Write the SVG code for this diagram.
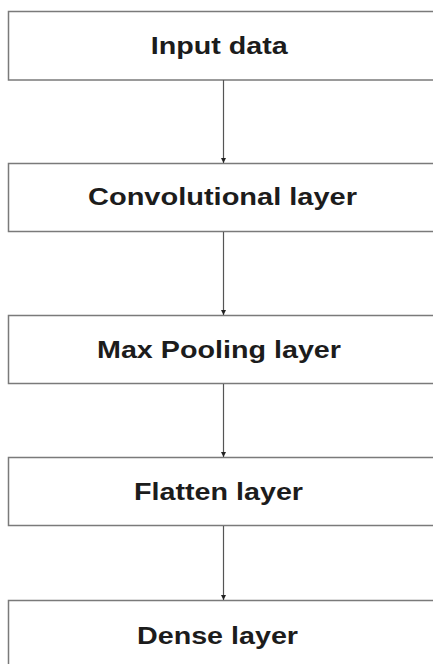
<svg xmlns="http://www.w3.org/2000/svg" width="433" height="664" viewBox="0 0 433 664">
<defs>
<style>
.box{fill:#fff;stroke:#7a7a7a;stroke-width:1.5}
.lbl{font-family:"Liberation Sans",Arial,sans-serif;font-weight:bold;font-size:23px;fill:#1c1c1c;text-anchor:middle}
.conn{stroke:#555;stroke-width:1.2;fill:none}
</style>
<marker id="ah" markerWidth="8" markerHeight="8" refX="5" refY="4" orient="auto" markerUnits="userSpaceOnUse">
<path d="M0,1.5 L5,4 L0,6.5 Z" fill="#222"/>
</marker>
</defs>
<rect width="433" height="664" fill="#fff"/>
<g id="node-input">
<rect class="box" x="8.5" y="11.5" width="440" height="68.5"/>
<text class="lbl" x="219.2" y="53.5" textLength="137" lengthAdjust="spacingAndGlyphs">Input data</text>
</g>
<g id="node-conv">
<rect class="box" x="8.5" y="163.5" width="440" height="68"/>
<text class="lbl" x="222.5" y="205" textLength="269" lengthAdjust="spacingAndGlyphs">Convolutional layer</text>
</g>
<g id="node-pool">
<rect class="box" x="8.5" y="315.5" width="440" height="68"/>
<text class="lbl" x="219" y="357.5" textLength="244" lengthAdjust="spacingAndGlyphs">Max Pooling layer</text>
</g>
<g id="node-flatten">
<rect class="box" x="8.5" y="457.5" width="440" height="68"/>
<text class="lbl" x="218.5" y="500" textLength="169" lengthAdjust="spacingAndGlyphs">Flatten layer</text>
</g>
<g id="node-dense">
<rect class="box" x="8.5" y="600.5" width="440" height="80"/>
<text class="lbl" x="217.5" y="643.5" textLength="161" lengthAdjust="spacingAndGlyphs">Dense layer</text>
</g>
<g id="connectors">
<line class="conn" x1="223.5" y1="80" x2="223.5" y2="163" marker-end="url(#ah)"/>
<line class="conn" x1="223.5" y1="232" x2="223.5" y2="315" marker-end="url(#ah)"/>
<line class="conn" x1="223.5" y1="384" x2="223.5" y2="457" marker-end="url(#ah)"/>
<line class="conn" x1="223.5" y1="526" x2="223.5" y2="600" marker-end="url(#ah)"/>
</g>
</svg>
